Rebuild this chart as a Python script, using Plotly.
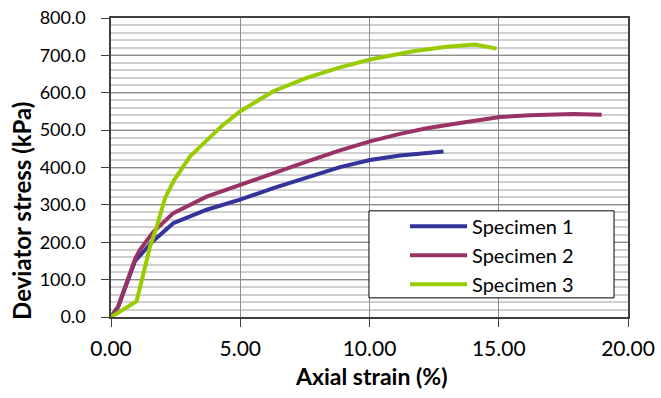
import plotly.graph_objects as go

strain1 = [0, 0.28, 0.93, 1.31, 1.64, 2.41, 3.70, 4.99, 6.28, 7.57, 8.86, 10.02, 11.18, 12.86]
stress1 = [0, 28, 150, 178, 204, 251, 287, 314, 345, 373, 401, 420, 432, 443]

strain2 = [0, 0.28, 0.93, 1.12, 1.64, 2.41, 3.70, 4.99, 6.28, 7.57, 8.86, 10.02, 11.18, 12.21, 13.50, 14.27, 15.05, 16.20, 17.88, 18.98]
stress2 = [0, 28, 155, 180, 228, 278, 322, 354, 385, 416, 446, 470, 490, 505, 519, 528, 535, 540, 543, 541]

strain3 = [0, 0.99, 1.51, 1.77, 2.09, 2.45, 3.06, 3.70, 4.30, 4.99, 6.28, 7.57, 8.86, 10.02, 11.69, 12.98, 14.08, 14.92]
stress3 = [0, 42, 188, 242, 318, 367, 430, 474, 512, 550, 604, 640, 668, 689, 711, 723, 729, 718]

names = ["Specimen 1", "Specimen 2", "Specimen 3"]
colors = ["#333399", "#993366", "#99CC00"]

x_ticks = [0, 5, 10, 15, 20]
x_labels = ["0.00", "5.00", "10.00", "15.00", "20.00"]
y_ticks = [0, 100, 200, 300, 400, 500, 600, 700, 800]
y_labels = ["0.0", "100.0", "200.0", "300.0", "400.0", "500.0", "600.0", "700.0", "800.0"]

x_title = "Axial strain (%)"
y_title = "Deviator stress (kPa)"

FONT = "Lato"

fig = go.Figure()
for xs, ys, nm, c in zip([strain1, strain2, strain3], [stress1, stress2, stress3], names, colors):
    fig.add_trace(go.Scatter(x=xs, y=ys, mode="lines", name=nm,
                             line=dict(color=c, width=4)))

fig.update_layout(
    width=661, height=398,
    margin=dict(l=111, r=33, t=18, b=81, autoexpand=False),
    paper_bgcolor="white", plot_bgcolor="white",
    font=dict(family=FONT, color="black"),
    showlegend=True,
    legend=dict(x=0.5687, y=0.3685, xanchor="left", yanchor="top",
                bgcolor="rgba(0,0,0,0)", borderwidth=0,
                font=dict(family=FONT, size=20, color="black"),
                itemwidth=57, tracegroupgap=0),
    shapes=[dict(type="rect", xref="paper", yref="paper",
                 x0=0.499, x1=0.973, y0=0.064, y1=0.355,
                 fillcolor="white", line=dict(color="black", width=1), layer="above")],
    annotations=[
        dict(text="<b>%s</b>" % x_title, xref="paper", yref="paper", x=0.503, y=-0.197,
             xanchor="center", yanchor="middle", showarrow=False,
             font=dict(family=FONT, size=23, color="black")),
        dict(text="<b>%s</b>" % y_title, xref="paper", yref="paper", x=-0.172, y=0.355,
             xanchor="center", yanchor="middle", showarrow=False, textangle=-90,
             font=dict(family=FONT, size=24, color="black")),
    ],
    xaxis=dict(range=[0, 20], tickmode="array", tickvals=x_ticks, ticktext=x_labels,
               showgrid=True, gridcolor="#8c8c8c", gridwidth=1,
               showline=True, linecolor="#404040", linewidth=1.5, mirror=True,
               ticks="outside", ticklen=8, tickcolor="#404040",
               tickfont=dict(family=FONT, size=21),
               ticklabelstandoff=4, ticklabeloverflow="allow",
               zeroline=False),
    yaxis=dict(range=[0, 800], tickmode="array", tickvals=y_ticks, ticktext=y_labels,
               showgrid=True, gridcolor="#8c8c8c", gridwidth=1,
               minor=dict(dtick=20, showgrid=True, gridcolor="#cfcfcf", gridwidth=1.5, ticks=""),
               showline=True, linecolor="#404040", linewidth=1.5, mirror=True,
               ticks="outside", ticklen=8, tickcolor="#404040",
               tickfont=dict(family=FONT, size=18),
               ticklabelstandoff=12, ticklabeloverflow="allow",
               zeroline=False),
)

# remove the page's default body margin so the figure fills the window exactly
fig.write_html("out.html", config={"displayModeBar": False},
               post_script="document.body.style.margin='0';")
